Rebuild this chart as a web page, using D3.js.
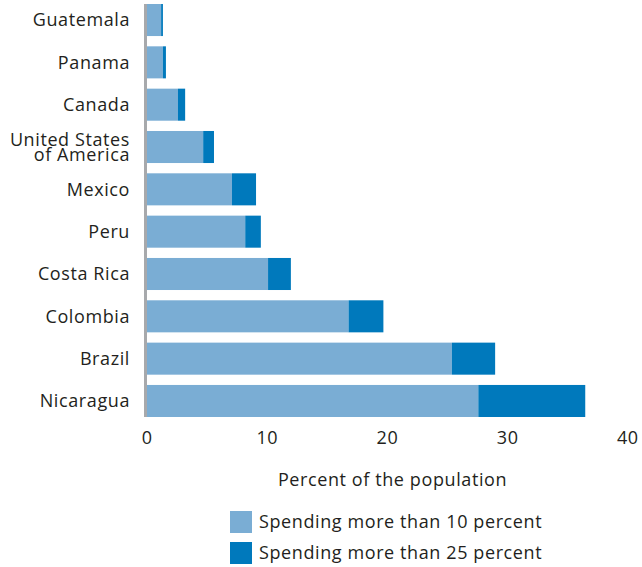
<!DOCTYPE html>
<html>
<head>
<meta charset="utf-8">
<script src="https://cdn.jsdelivr.net/npm/d3@7"></script>
<style>
  html, body { margin: 0; padding: 0; background: #fff; }
  svg { display: block; }
  text { font-family: "Open Sans", "Noto Sans", sans-serif; fill: #231f20; letter-spacing: 0.6px; }
</style>
</head>
<body>
<svg id="chart" width="642" height="567"></svg>
<script>
const countries = ["Guatemala", "Panama", "Canada", "United States of America", "Mexico",
                   "Peru", "Costa Rica", "Colombia", "Brazil", "Nicaragua"];
const countryLines = [["Guatemala"], ["Panama"], ["Canada"], ["United States", "of America"], ["Mexico"],
                      ["Peru"], ["Costa Rica"], ["Colombia"], ["Brazil"], ["Nicaragua"]];
const over10 = [1.2, 1.35, 2.6, 4.7, 7.1, 8.2, 10.1, 16.8, 25.4, 27.6];
const over25 = [0.15, 0.25, 0.6, 0.9, 2.0, 1.3, 1.9, 2.9, 3.6, 8.9];
const xTicks = [0, 10, 20, 30, 40];
const seriesNames = ["Spending more than 10 percent", "Spending more than 25 percent"];
const colors = ["#7aadd4", "#0079bc"];

const FS = 18;
const svg = d3.select("#chart");
const x = d3.scaleLinear().domain([0, 40]).range([146.7, 627.3]);
const y = d3.scaleBand().domain(countries).range([4, 417]).paddingInner(0.243).paddingOuter(0);

const table = countries.map((c, i) => ({ country: c, s0: over10[i], s1: over25[i] }));
const stack = d3.stack().keys(["s0", "s1"]);
const layers = stack(table);

svg.append("g").selectAll("g").data(layers).join("g")
  .attr("fill", (d, i) => colors[i])
  .selectAll("rect").data(d => d).join("rect")
  .attr("x", d => x(d[0]))
  .attr("y", d => y(d.data.country))
  .attr("width", d => x(d[1]) - x(d[0]))
  .attr("height", y.bandwidth());

// vertical axis line
svg.append("line")
  .attr("x1", 145.5).attr("x2", 145.5)
  .attr("y1", y.range()[0]).attr("y2", y.range()[1])
  .attr("stroke", "#a7a9ac").attr("stroke-width", 3);

// country labels
const lab = svg.append("g").selectAll("text").data(countries).join("text")
  .attr("text-anchor", "end")
  .attr("font-size", FS)
  .attr("x", 130)
  .attr("y", d => y(d) + y.bandwidth() / 2);
lab.each(function(d, i) {
  const lines = countryLines[i];
  const t = d3.select(this);
  const lh = 15.5;
  lines.forEach((ln, j) => {
    t.append("tspan")
      .attr("x", 130)
      .attr("y", y(d) + y.bandwidth() / 2 + (j - (lines.length - 1) / 2) * lh)
      .attr("dy", "0.35em")
      .text(ln);
  });
});

// x axis tick labels
const xAxis = d3.axisBottom(x).tickValues(xTicks).tickSize(0).tickPadding(0);
const gx = svg.append("g").attr("transform", "translate(0,431)").call(xAxis);
gx.select(".domain").remove();
gx.selectAll("text").attr("font-size", FS).attr("font-family", "Open Sans, Noto Sans, sans-serif").attr("fill", "#231f20");

// axis title
svg.append("text")
  .attr("x", 392.5).attr("y", 486)
  .attr("text-anchor", "middle")
  .attr("font-size", FS)
  .text("Percent of the population");

// legend
const leg = svg.append("g").selectAll("g").data(seriesNames).join("g")
  .attr("transform", (d, i) => `translate(230, ${511 + i * 31})`);
leg.append("rect").attr("width", 22).attr("height", 22).attr("fill", (d, i) => colors[i]);
leg.append("text").attr("x", 29).attr("y", 11).attr("dy", "0.35em")
  .attr("font-size", FS).text(d => d);
</script>
</body>
</html>
